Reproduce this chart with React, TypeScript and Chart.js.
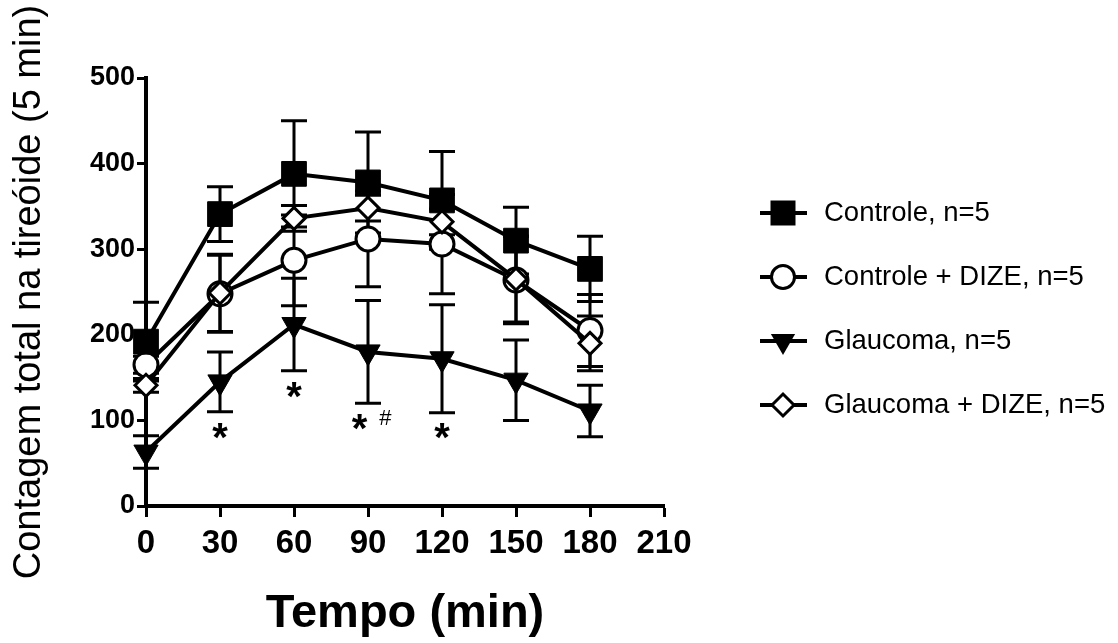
import React, { useEffect, useRef } from "react";
import { Chart, registerables } from "chart.js";

Chart.register(...registerables);

const timePoints = [0, 30, 60, 90, 120, 150, 180];
const xTickValues = [0, 30, 60, 90, 120, 150, 180, 210];
const yTickValues = [0, 100, 200, 300, 400, 500];

const seriesLabels = [
  "Controle, n=5",
  "Controle + DIZE, n=5",
  "Glaucoma, n=5",
  "Glaucoma + DIZE, n=5",
];

const controleMean = [192, 341, 388, 378, 357, 310, 277];
const controleErr = [46, 32, 62, 59, 57, 39, 38];
const controleDizeMean = [165, 248, 287, 312, 306, 264, 205];
const controleDizeErr = [10, 45, 53, 56, 58, 51, 42];
const glaucomaMean = [63, 145, 212, 180, 172, 147, 111];
const glaucomaErr = [19, 35, 54, 60, 63, 47, 30];
const glaucomaDizeMean = [141, 249, 336, 348, 332, 265, 190];
const glaucomaDizeErr = [8, 45, 15, 15, 15, 50, 32];

const starX = [30, 60, 86.6, 120];
const starY = [90, 138, 101, 90];
const hashX = [97];
const hashY = [104];

const FONT = "'Liberation Sans', Arial, Helvetica, sans-serif";

type MarkerKind = "square" | "circle" | "triangleDown" | "diamond";

const seriesMarkers: MarkerKind[] = ["square", "circle", "triangleDown", "diamond"];

function drawMarker(ctx: CanvasRenderingContext2D, kind: MarkerKind, x: number, y: number) {
  ctx.save();
  ctx.strokeStyle = "#000";
  ctx.lineWidth = 3;
  ctx.beginPath();
  if (kind === "square") {
    ctx.fillStyle = "#000";
    ctx.rect(x - 12.5, y - 12.5, 25, 25);
    ctx.fill();
  } else if (kind === "circle") {
    ctx.fillStyle = "#fff";
    ctx.arc(x, y, 11.5, 0, Math.PI * 2);
    ctx.fill();
    ctx.stroke();
  } else if (kind === "triangleDown") {
    ctx.fillStyle = "#000";
    const r = 14;
    ctx.moveTo(x, y + r);
    ctx.lineTo(x - r * Math.sin(Math.PI / 3), y - r / 2);
    ctx.lineTo(x + r * Math.sin(Math.PI / 3), y - r / 2);
    ctx.closePath();
    ctx.fill();
  } else {
    ctx.fillStyle = "#fff";
    const r = 11;
    ctx.moveTo(x - r, y);
    ctx.lineTo(x, y - r);
    ctx.lineTo(x + r, y);
    ctx.lineTo(x, y + r);
    ctx.closePath();
    ctx.fill();
    ctx.stroke();
  }
  ctx.restore();
}

const errorArrays = [controleErr, controleDizeErr, glaucomaErr, glaucomaDizeErr];

const errorBarPlugin = {
  id: "errorBars",
  beforeDatasetsDraw(chart: any) {
    const ctx = chart.ctx as CanvasRenderingContext2D;
    const yScale = chart.scales.y;
    const xScale = chart.scales.x;
    ctx.save();
    ctx.strokeStyle = "#000";
    ctx.lineWidth = 3;
    chart.data.datasets.forEach((ds: any, i: number) => {
      const errs = errorArrays[i];
      ds.data.forEach((pt: any, j: number) => {
        const px = xScale.getPixelForValue(pt.x);
        const top = yScale.getPixelForValue(pt.y + errs[j]);
        const bot = yScale.getPixelForValue(pt.y - errs[j]);
        ctx.beginPath();
        ctx.moveTo(px, top);
        ctx.lineTo(px, bot);
        ctx.moveTo(px - 13, top);
        ctx.lineTo(px + 13, top);
        ctx.moveTo(px - 13, bot);
        ctx.lineTo(px + 13, bot);
        ctx.stroke();
      });
    });
    ctx.restore();
  },
};

const annotationPlugin = {
  id: "annotations",
  afterDraw(chart: any) {
    const ctx = chart.ctx as CanvasRenderingContext2D;
    const yScale = chart.scales.y;
    const xScale = chart.scales.x;
    ctx.save();
    ctx.fillStyle = "#000";
    ctx.textAlign = "center";
    ctx.textBaseline = "alphabetic";
    ctx.font = `bold 40px ${FONT}`;
    starX.forEach((sx, i) => {
      const px = xScale.getPixelForValue(sx);
      const py = yScale.getPixelForValue(starY[i]);
      ctx.fillText("*", px, py + 0.56 * 40);
    });
    ctx.font = `22px ${FONT}`;
    hashX.forEach((hx, i) => {
      const px = xScale.getPixelForValue(hx);
      const py = yScale.getPixelForValue(hashY[i]);
      ctx.fillText("#", px, py + 0.36 * 22);
    });
    ctx.restore();
  },
};

const legendY = [213, 277, 341, 405];

const legendPlugin = {
  id: "customLegend",
  afterDraw(chart: any) {
    const ctx = chart.ctx as CanvasRenderingContext2D;
    ctx.save();
    seriesLabels.forEach((label, i) => {
      const y = legendY[i];
      ctx.strokeStyle = "#000";
      ctx.lineWidth = 4;
      ctx.beginPath();
      ctx.moveTo(760, y);
      ctx.lineTo(807, y);
      ctx.stroke();
      drawMarker(ctx, seriesMarkers[i], 783, y);
      ctx.fillStyle = "#000";
      ctx.font = `27.5px ${FONT}`;
      ctx.textAlign = "left";
      ctx.textBaseline = "middle";
      ctx.fillText(label, 824, y);
    });
    ctx.restore();
  },
};

export default function App() {
  const canvasRef = useRef<HTMLCanvasElement | null>(null);

  useEffect(() => {
    document.body.style.margin = "0";
    const canvas = canvasRef.current;
    if (!canvas) return;

    const makePoints = (arr: number[]) => timePoints.map((t, i) => ({ x: t, y: arr[i] }));

    const common = {
      borderColor: "#000",
      borderWidth: 4,
      pointBorderColor: "#000",
      clip: false as any,
      showLine: true,
      fill: false,
      tension: 0,
    };

    const chart = new Chart(canvas, {
      type: "line",
      data: {
        datasets: [
          {
            ...common,
            label: seriesLabels[0],
            data: makePoints(controleMean),
            pointStyle: "rect",
            pointRadius: 17.5,
            pointBackgroundColor: "#000",
            pointBorderWidth: 1,
            order: 1,
          },
          {
            ...common,
            label: seriesLabels[1],
            data: makePoints(controleDizeMean),
            pointStyle: "circle",
            pointRadius: 12,
            pointBackgroundColor: "#fff",
            pointBorderWidth: 3,
            order: 3,
          },
          {
            ...common,
            label: seriesLabels[2],
            data: makePoints(glaucomaMean),
            pointStyle: "triangle",
            pointRotation: 180,
            pointRadius: 14,
            pointBackgroundColor: "#000",
            pointBorderWidth: 1,
            order: 2,
          },
          {
            ...common,
            label: seriesLabels[3],
            data: makePoints(glaucomaDizeMean),
            pointStyle: "rectRot",
            pointRadius: 11,
            pointBackgroundColor: "#fff",
            pointBorderWidth: 3,
            order: 0,
          },
        ] as any,
      },
      options: {
        responsive: false,
        animation: false,
        maintainAspectRatio: false,
        layout: { padding: { top: 78, right: 454, left: 0, bottom: 0 } },
        plugins: {
          legend: { display: false },
          tooltip: { enabled: false },
        },
        scales: {
          x: {
            type: "linear",
            min: 0,
            max: 210,
            afterFit: (scale: any) => {
              scale.height = 137;
            },
            afterBuildTicks: (scale: any) => {
              scale.ticks = xTickValues.map((v) => ({ value: v }));
            },
            ticks: {
              color: "#000",
              font: { family: FONT, size: 33, weight: "bold" },
              padding: 7,
              autoSkip: false,
              maxRotation: 0,
            },
            grid: {
              display: true,
              drawOnChartArea: false,
              drawTicks: true,
              tickLength: 11,
              tickWidth: 3,
              tickColor: "#000",
              color: "#000",
            },
            border: { display: true, width: 4, color: "#000" },
            title: {
              display: true,
              text: "Tempo (min)",
              color: "#000",
              font: { family: FONT, size: 47, weight: "bold" },
              padding: { top: 0, bottom: 1 },
            },
          },
          y: {
            type: "linear",
            min: 0,
            max: 500,
            afterFit: (scale: any) => {
              scale.width = 146;
            },
            afterBuildTicks: (scale: any) => {
              scale.ticks = yTickValues.map((v) => ({ value: v }));
            },
            ticks: {
              color: "#000",
              font: { family: FONT, size: 27, weight: "bold" },
              padding: 2,
              autoSkip: false,
            },
            grid: {
              display: true,
              drawOnChartArea: false,
              drawTicks: true,
              tickLength: 9,
              tickWidth: 3,
              tickColor: "#000",
              color: "#000",
            },
            border: { display: true, width: 4, color: "#000" },
            title: {
              display: true,
              text: "Contagem total na tireóide (5 min)",
              color: "#000",
              font: { family: FONT, size: 38, weight: "normal" },
              padding: { top: 7, bottom: 0 },
            },
          },
        },
      } as any,
      plugins: [errorBarPlugin, annotationPlugin, legendPlugin],
    });

    return () => {
      chart.destroy();
    };
  }, []);

  return (
    <div style={{ width: 1118, height: 643, background: "#fff" }}>
      <canvas ref={canvasRef} width={1118} height={643} style={{ display: "block" }} />
    </div>
  );
}
